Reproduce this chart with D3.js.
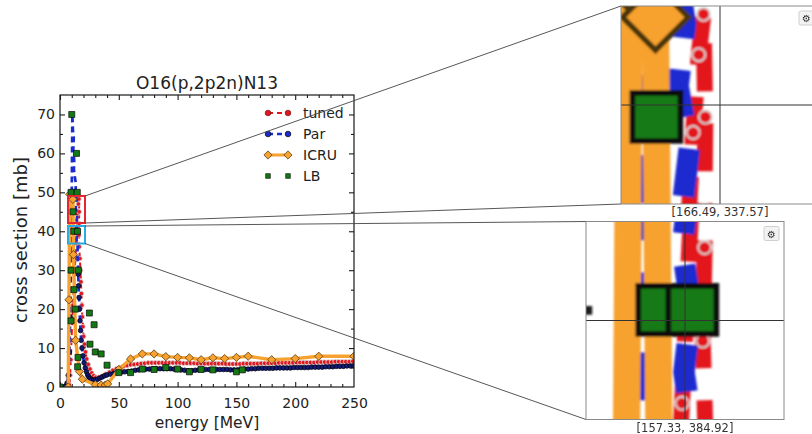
<!DOCTYPE html>
<html>
<head>
<meta charset="utf-8">
<script src="https://cdn.jsdelivr.net/npm/d3@7"></script>
<style>
  body { margin: 0; background: #fff; }
  svg { display: block; font-family: "DejaVu Sans", sans-serif; }
</style>
</head>
<body>
<svg id="fig" width="812" height="434"></svg>
<script>
// ---------- data: [energy MeV, cross section mb] ----------
const tunedPts = [
  [8,0.5],[8.6,3],[9.2,7],[9.8,12],[10.4,17],[11,21],[11.7,25],[12.4,29],[13.1,33],[13.8,37],
  [14.4,41],[15.0,44.5],[15.6,47],[16.1,48.3],[16.3,45],[16.2,42],[16.0,39],[16.3,36],[16.9,33],
  [17.4,30],[17.8,27],[18.2,24],[18.6,21],[19.0,18],[19.5,15.5],[20.1,13],[20.8,11],[21.7,9],
  [22.7,7.2],[24,5.8],
  [25.5,4.6],[27,3.6],[28.5,2.9],[30.5,2.5],[33,2.5],[36,2.8],[39,3.3],[42,3.8],[45,4.3],[48,4.7],
  [51,5.0],[54,5.3],[57,5.5],[60,5.7],[63,5.8],[66,5.9],[69,6.0],[72,6.1],[75,6.2],[78,6.2],
  [81,6.2],[84,6.2],[87,6.2],[90,6.2],[93,6.2],[96,6.2],[99,6.2],[102,6.2],[105,6.1],[108,6.1],
  [111,6.1],[114,6.1],[117,6.0],[120,6.0],[123,6.0],[126,6.0],[129,6.0],[132,6.0],[135,6.0],
  [138,6.0],[141,5.9],[144,5.9],[147,5.9],[150,5.9],[153,5.9],[156,6.0],[159,6.0],[162,6.0],
  [165,6.0],[168,6.0],[171,6.1],[174,6.1],[177,6.1],[180,6.1],[183,6.1],[186,6.2],[189,6.2],
  [192,6.2],[195,6.2],[198,6.2],[201,6.3],[204,6.3],[207,6.3],[210,6.3],[213,6.3],[216,6.3],
  [219,6.4],[222,6.4],[225,6.4],[228,6.4],[231,6.4],[234,6.5],[237,6.5],[240,6.5],[243,6.5],
  [246,6.5],[249,6.6]
];
const parPts = [
  [0,0],[2,0],[4,0],[5,0.3],[6,1],[7,3],[8,9],[8.7,18],[9.3,30],[9.8,42],[10.2,58],[10.5,70],
  [11.0,66],[11.7,64],[11.3,61],[12.1,58],[11.8,56],[12.6,54],[13.6,52],[13.0,50],[14.2,48],
  [13.4,46],[14.6,44],[13.8,42],[14.8,40],[14.0,38],[15.0,36],[14.8,34],[15.2,32],[15.5,29],
  [15.8,26],[16.2,23],[16.6,20],
  [17,17],[17.5,14.5],[18,12],[18.7,10],[19.5,8],[20.5,6.2],[21.5,4.9],[22.5,3.9],[23.5,3.1],
  [24.5,2.6],[25.5,2.2],[27,1.9],[28.5,1.8],[30,1.8],[32,2.0],[34,2.3],[36,2.6],[38,2.9],
  [40,3.1],[43,3.3],[46,3.5],[49,3.7],[52,3.8],[55,3.9],[58,4.0],[61,4.1],[64,4.3],[67,4.4],
  [70,4.5],[73,4.6],[76,4.6],[79,4.7],[82,4.7],[85,4.7],[88,4.7],[91,4.7],[94,4.7],[97,4.6],
  [100,4.5],[103,4.4],[106,4.3],[109,4.2],[112,4.2],[115,4.3],[118,4.4],[121,4.5],[124,4.5],
  [127,4.5],[130,4.5],[133,4.5],[136,4.5],[139,4.5],[142,4.5],[145,4.4],[148,4.4],[151,4.4],
  [154,4.5],[157,4.6],[160,4.6],[163,4.7],[166,4.7],[169,4.8],[172,4.8],[175,4.8],[178,4.8],
  [181,4.8],[184,4.9],[187,4.9],[190,4.9],[193,4.9],[196,4.9],[199,5.0],[202,5.0],[205,5.0],
  [208,5.0],[211,5.0],[214,5.1],[217,5.1],[220,5.1],[223,5.1],[226,5.2],[229,5.2],[232,5.2],
  [235,5.3],[238,5.3],[241,5.3],[244,5.4],[247,5.4],[250,5.5]
];
const icruPts = [
  [7,0],[7.6,22.4],[8.2,49.5],[11.0,48.2],[11.4,34],[13.3,12],[16.5,4],[19,2],
  [30,0.6],[35,0.5],[38.5,0.5],[40.5,0.8],[50,4.5],[60,7.2],[70,8.5],[80,8.5],[90,7.8],
  [100,7.6],[110,7.5],[120,7.0],[130,7.5],[140,7.3],[150,7.6],[160,7.9],[180,7.0],[200,7.3],
  [220,7.9],[250,7.9]
];
const lbPts = [
  [0,0],[9.4,17],[9.4,30],[9.4,50],[10,70],[11.1,45],[11.7,40],[11.9,25],[13,20],[14,60],
  [14.7,50],[14.9,40],[15,5.2],[15.3,7.6],[15.6,30],[25,19],[25.5,11],[29,16],[30,9],[35,8.5],
  [40,5.6],[50,3.7],[60,3.7],[70,4.6],[80,4.5],[90,5],[100,4.6],[110,3.9],[120,4.5],[130,4.4],
  [150,3.9],[155,4.4]
];

const xTickValues = [0, 50, 100, 150, 200, 250];
const yTickValues = [0, 10, 20, 30, 40, 50, 60, 70];
const legendLabels = ["tuned", "Par", "ICRU", "LB"];
const titleText = "O16(p,2p2n)N13";
const xLabel = "energy [MeV]";
const yLabel = "cross section [mb]";
const zoomLabels = ["[166.49, 337.57]", "[157.33, 384.92]"];
// Par markers are only drawn below this cross section (the spike is a bare line)
const parMarkerCeiling = 30;

// ---------- layout ----------
const svg = d3.select("#fig");
const m = { left: 60, top: 95, right: 354, bottom: 387 };
const x = d3.scaleLinear().domain([0, 250]).range([m.left, m.right]);
const y = d3.scaleLinear().domain([0, 75]).range([m.bottom, m.top]);

const C = {
  tuned: "#e3161d", tunedEdge: "#d6d6d6",
  par: "#1a2bd0", parFill: "#121c78", parEdge: "#000010",
  icru: "#f7a12f", icruEdge: "#4a3510",
  lb: "#137a13", lbEdge: "#0a0a0a",
  ink: "#1a1a1a"
};

const defs = svg.append("defs");
const soft = defs.append("filter").attr("id", "soft")
  .attr("filterUnits", "userSpaceOnUse")
  .attr("x", 560).attr("y", 0).attr("width", 260).attr("height", 434);
soft.append("feGaussianBlur").attr("stdDeviation", 1.3);

svg.append("rect").attr("width", 812).attr("height", 434).attr("fill", "#fff");

const none = () => "";
const minorX = d3.range(0, 251, 10).filter(v => v % 50 !== 0);
const minorY = d3.range(5, 75, 10);

// Draws ticks and all four series with the given scales; k scales line widths and marker sizes.
function drawPanel(g, sx, sy, k, tunedR) {
  const line = d3.line().x(d => sx(d[0])).y(d => sy(d[1]));
  const [x0, x1] = sx.range(), [y0, y1] = sy.range();
  const dash = `${6 * k},${4 * k}`;

  const tickStyle = sel => {
    sel.select(".domain").remove();
    sel.selectAll(".tick line").attr("stroke", C.ink).attr("stroke-width", 1.1 * k);
  };
  g.append("g").attr("transform", `translate(0,${y0})`)
    .call(d3.axisBottom(sx).tickValues(xTickValues).tickSize(-5 * k).tickFormat(none)).call(tickStyle);
  g.append("g").attr("transform", `translate(0,${y0})`)
    .call(d3.axisBottom(sx).tickValues(minorX).tickSize(-3 * k).tickFormat(none)).call(tickStyle);
  g.append("g").attr("transform", `translate(0,${y1})`)
    .call(d3.axisTop(sx).tickValues(xTickValues).tickSize(-5 * k).tickFormat(none)).call(tickStyle);
  g.append("g").attr("transform", `translate(0,${y1})`)
    .call(d3.axisTop(sx).tickValues(minorX).tickSize(-3 * k).tickFormat(none)).call(tickStyle);
  g.append("g").attr("transform", `translate(${x0},0)`)
    .call(d3.axisLeft(sy).tickValues(yTickValues).tickSize(-5 * k).tickFormat(none)).call(tickStyle);
  g.append("g").attr("transform", `translate(${x0},0)`)
    .call(d3.axisLeft(sy).tickValues(minorY).tickSize(-3 * k).tickFormat(none)).call(tickStyle);
  g.append("g").attr("transform", `translate(${x1},0)`)
    .call(d3.axisRight(sy).tickValues(yTickValues).tickSize(-5 * k).tickFormat(none)).call(tickStyle);
  g.append("g").attr("transform", `translate(${x1},0)`)
    .call(d3.axisRight(sy).tickValues(minorY).tickSize(-3 * k).tickFormat(none)).call(tickStyle);

  // tuned
  g.append("path").datum(tunedPts).attr("d", line).attr("fill", "none")
    .attr("stroke", C.tuned).attr("stroke-width", 2 * k).attr("stroke-dasharray", dash);
  g.append("g").selectAll("circle").data(tunedPts).join("circle")
    .attr("cx", d => sx(d[0])).attr("cy", d => sy(d[1])).attr("r", tunedR)
    .attr("fill", C.tuned).attr("stroke", C.tunedEdge).attr("stroke-width", Math.max(0.8, tunedR * 0.3));

  // Par
  g.append("path").datum(parPts).attr("d", line).attr("fill", "none")
    .attr("stroke", C.par).attr("stroke-width", 2.7 * k).attr("stroke-dasharray", dash);
  g.append("g").selectAll("circle").data(parPts.filter(d => d[1] < parMarkerCeiling)).join("circle")
    .attr("cx", d => sx(d[0])).attr("cy", d => sy(d[1])).attr("r", 2.3 * k)
    .attr("fill", C.parFill).attr("stroke", C.parEdge).attr("stroke-width", 0.8 * k);

  // ICRU
  const dia = d3.symbol(d3.symbolSquare, 34 * k * k)();
  g.append("path").datum(icruPts).attr("d", line).attr("fill", "none")
    .attr("stroke", C.icru).attr("stroke-width", 3.4 * k).attr("stroke-linejoin", "round");
  g.append("g").selectAll("path").data(icruPts).join("path")
    .attr("d", dia)
    .attr("transform", d => `translate(${sx(d[0])},${sy(d[1])}) rotate(45)`)
    .attr("fill", C.icru).attr("stroke", C.icruEdge).attr("stroke-width", 0.7 * k);

  // LB
  const sq = d3.symbol(d3.symbolSquare, 36 * k * k)();
  g.append("g").selectAll("path").data(lbPts).join("path")
    .attr("d", sq)
    .attr("transform", d => `translate(${sx(d[0])},${sy(d[1])})`)
    .attr("fill", C.lb).attr("stroke", C.lbEdge).attr("stroke-width", 0.7 * k);
}

// ---------- main panel ----------
defs.append("clipPath").attr("id", "plot-clip")
  .append("rect").attr("x", m.left).attr("y", m.top)
  .attr("width", m.right - m.left).attr("height", m.bottom - m.top);
drawPanel(svg.append("g").attr("clip-path", "url(#plot-clip)"), x, y, 1, 2.3);

function styleLabels(g) {
  g.select(".domain").remove();
  g.selectAll(".tick line").remove();
  g.selectAll(".tick text").attr("fill", "#222").attr("font-size", 14)
    .attr("font-family", "DejaVu Sans, sans-serif");
}
svg.append("g").attr("transform", `translate(0,${m.bottom})`)
  .call(d3.axisBottom(x).tickValues(xTickValues).tickSize(0).tickPadding(11).tickFormat(d3.format("d")))
  .call(styleLabels);
svg.append("g").attr("transform", `translate(${m.left},0)`)
  .call(d3.axisLeft(y).tickValues(yTickValues).tickSize(0).tickPadding(5).tickFormat(d3.format("d")))
  .call(styleLabels);

svg.append("rect").attr("x", m.left).attr("y", m.top)
  .attr("width", m.right - m.left).attr("height", m.bottom - m.top)
  .attr("fill", "none").attr("stroke", C.ink).attr("stroke-width", 1.2);

// titles
svg.append("text").attr("x", (m.left + m.right) / 2).attr("y", 89)
  .attr("text-anchor", "middle").attr("font-size", 17).attr("fill", "#222").text(titleText);
svg.append("text").attr("x", (m.left + m.right) / 2).attr("y", 428)
  .attr("text-anchor", "middle").attr("font-size", 15.5).attr("fill", "#222").text(xLabel);
svg.append("text")
  .attr("transform", `translate(27,${(m.top + m.bottom) / 2 - 1}) rotate(-90)`)
  .attr("text-anchor", "middle").attr("font-size", 18).attr("fill", "#222").text(yLabel);

// ---------- legend ----------
const legendStyles = [
  { color: C.tuned, dash: "5,4", width: 2, marker: "circle", fill: C.tuned, edge: "#7a1010" },
  { color: C.par, dash: "5,4", width: 2.4, marker: "circle", fill: C.par, edge: C.parEdge },
  { color: C.icru, dash: null, width: 3, marker: "diamond", fill: C.icru, edge: C.icruEdge },
  { color: null, dash: null, width: 0, marker: "square", fill: C.lb, edge: C.lbEdge }
];
const legend = svg.append("g");
legendLabels.forEach((lab, i) => {
  const st = legendStyles[i];
  const ly = 113 + i * 21;
  const row = legend.append("g");
  if (st.color) {
    row.append("line").attr("x1", 268).attr("x2", 288).attr("y1", ly).attr("y2", ly)
      .attr("stroke", st.color).attr("stroke-width", st.width)
      .attr("stroke-dasharray", st.dash);
  }
  [268, 288].forEach(px => {
    if (st.marker === "circle") {
      row.append("circle").attr("cx", px).attr("cy", ly).attr("r", 2.8)
        .attr("fill", st.fill).attr("stroke", st.edge).attr("stroke-width", 0.7);
    } else if (st.marker === "diamond") {
      row.append("path").attr("d", d3.symbol(d3.symbolSquare, 34)())
        .attr("transform", `translate(${px},${ly}) rotate(45)`)
        .attr("fill", st.fill).attr("stroke", st.edge).attr("stroke-width", 0.7);
    } else {
      row.append("path").attr("d", d3.symbol(d3.symbolSquare, 22)())
        .attr("transform", `translate(${px},${ly})`)
        .attr("fill", st.fill).attr("stroke", st.edge).attr("stroke-width", 0.6);
    }
  });
  row.append("text").attr("x", 303).attr("y", ly + 5).attr("font-size", 14)
    .attr("fill", "#222").text(lab);
});

// ---------- magnified views ----------
const M = 8;
const zoomViews = [
  { box: [621, 6, 198, 198], center: [81, 210.3], frame: "#e3262f",
    rect: [68, 196, 17, 27], label: zoomLabels[0] },
  { box: [586, 221.5, 198, 198], center: [76.6, 232.6], frame: "#29abe2",
    rect: [68, 226, 17, 17.5], label: zoomLabels[1] }
];

zoomViews.forEach((v, i) => {
  const [bx, by, bw, bh] = v.box;
  const [rx, ry, rw, rh] = v.rect;
  const cxI = bx + bw / 2, cyI = by + bh / 2;
  const [cx, cy] = v.center;

  // selection frame in the main plot
  svg.append("rect").attr("x", rx).attr("y", ry).attr("width", rw).attr("height", rh)
    .attr("fill", "none").attr("stroke", v.frame).attr("stroke-width", 2);

  // connectors
  svg.append("line").attr("x1", rx + rw).attr("y1", ry).attr("x2", bx).attr("y2", by)
    .attr("stroke", "#444").attr("stroke-width", 0.9);
  svg.append("line").attr("x1", rx + rw).attr("y1", ry + rh).attr("x2", bx).attr("y2", by + bh)
    .attr("stroke", "#444").attr("stroke-width", 0.9);

  const clipId = "zoom-clip-" + i;
  defs.append("clipPath").attr("id", clipId)
    .append("rect").attr("x", bx).attr("y", by).attr("width", bw).attr("height", bh);

  // magnified scales around the view centre
  const zx = d3.scaleLinear().domain(x.domain())
    .range(x.range().map(p => cxI + (p - cx) * M));
  const zy = d3.scaleLinear().domain(y.domain())
    .range(y.range().map(p => cyI + (p - cy) * M));

  const g = svg.append("g");
  const inner = g.append("g").attr("clip-path", `url(#${clipId})`);
  inner.append("rect").attr("x", bx).attr("y", by).attr("width", bw).attr("height", bh)
    .attr("fill", "#fff");
  drawPanel(inner.append("g").attr("filter", "url(#soft)"), zx, zy, M, 6.5);

  // crosshair
  inner.append("line").attr("x1", bx).attr("x2", bx + bw).attr("y1", cyI).attr("y2", cyI)
    .attr("stroke", "#333").attr("stroke-width", 1);
  inner.append("line").attr("x1", cxI).attr("x2", cxI).attr("y1", by).attr("y2", by + bh)
    .attr("stroke", "#333").attr("stroke-width", 1);

  g.append("rect").attr("x", bx).attr("y", by).attr("width", bw).attr("height", bh)
    .attr("fill", "none").attr("stroke", "#8a8a8a").attr("stroke-width", 1);

  // settings button
  const btn = g.append("g").attr("transform", `translate(${bx + bw - 20},${by + 5})`);
  btn.append("rect").attr("width", 15).attr("height", 14).attr("rx", 1.5)
    .attr("fill", "#f2f2f2").attr("stroke", "#cfcfcf");
  btn.append("text").attr("x", 7.5).attr("y", 11).attr("text-anchor", "middle")
    .attr("font-size", 10).attr("fill", "#333").text("⚙");

  g.append("text").attr("x", cxI).attr("y", by + bh + 12)
    .attr("text-anchor", "middle").attr("font-size", 11.5).attr("fill", "#333")
    .text(v.label);
});
</script>
</body>
</html>
